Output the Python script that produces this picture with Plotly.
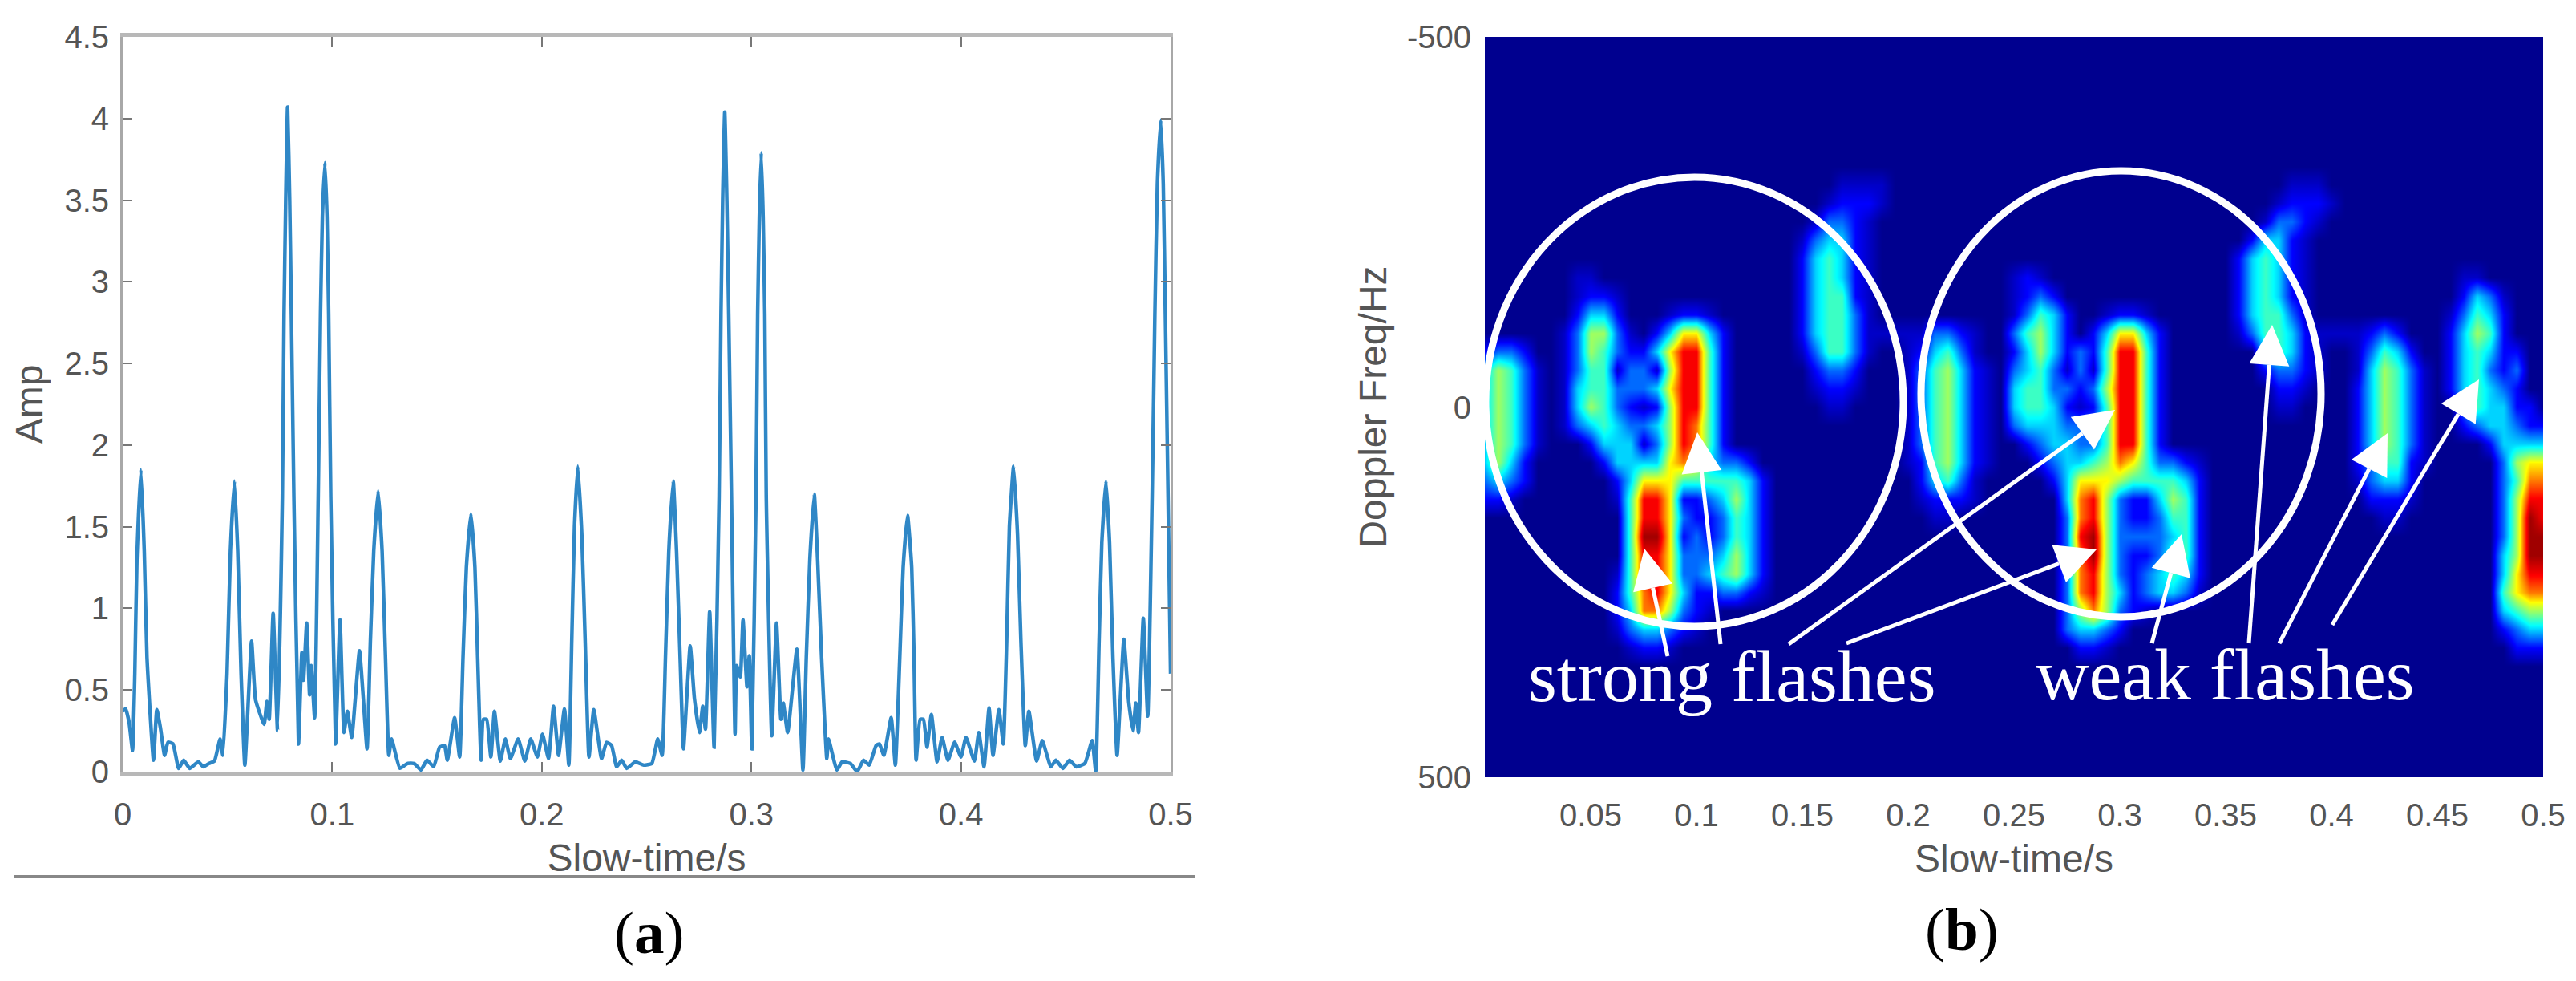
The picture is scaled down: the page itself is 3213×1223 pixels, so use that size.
import plotly.graph_objects as go

W, H = 3213, 1223

# (a) amplitude trace
slow_time = [
    0, .0014, .0031, .0047, .0058, .0068, .0087, .0103, .0116, .0147,
    .0163, .0180, .0200, .0216, .0240, .0267, .0291, .0320, .0361, .0385,
    .0412, .0438, .0465, .0478, .0498, .0514, .0533, .0549, .0565, .0583,
    .0615, .0634, .0675, .0688, .0699, .0718, .0739, .0762, .0770, .0778,
    .0787, .0797, .0805, .0817, .0839, .0855, .0863, .0878, .0892, .0900,
    .0916, .0933, .0944, .0953, .0965, .0975, .0983, .0993, .1016, .1037,
    .1056, .1072, .1093, .1130, .1166, .1182, .1198, .1219, .1238, .1254,
    .1270, .1283, .1323, .1359, .1391, .1423, .1452, .1484, .1512, .1536,
    .1549, .1584, .1608, .1624, .1640, .1662, .1681, .1694, .1710, .1721,
    .1737, .1757, .1774, .1802, .1826, .1850, .1887, .1919, .1947, .1979,
    .2003, .2032, .2056, .2080, .2108, .2129, .2143, .2156, .2172, .2191,
    .2207, .2225, .2248, .2285, .2309, .2333, .2357, .2381, .2405, .2446,
    .2486, .2525, .2553, .2574, .2590, .2606, .2627, .2643, .2660, .2676,
    .2708, .2728, .2752, .2768, .2781, .2801, .2822, .2846, .2855, .2863,
    .2873, .2883, .2892, .2905, .2922, .2930, .2947, .2960, .2979, .2990,
    .3002, .3022, .3030, .3038, .3047, .3056, .3064, .3071, .3097, .3120,
    .3141, .3152, .3173, .3217, .3246, .3262, .3279, .3300, .3316, .3335,
    .3360, .3368, .3408, .3433, .3473, .3505, .3535, .3562, .3595, .3611,
    .3632, .3667, .3687, .3708, .3724, .3745, .3765, .3776, .3786, .3805,
    .3821, .3838, .3859, .3886, .3910, .3938, .3970, .4000, .4024, .4064,
    .4085, .4110, .4134, .4153, .4181, .4202, .4218, .4231, .4251, .4270,
    .4286, .4307, .4324, .4361, .4388, .4429, .4453, .4486, .4518, .4550,
    .4591, .4626, .4643, .4659, .4672, .4692, .4709, .4725, .4745, .4777,
    .4801, .4821, .4834, .4847, .4870, .4891, .4912, .4925, .4937, .4953,
    .4965, .4975, .4988, .5000,
]
amp = [
    .37, .385, .30, .13, .60, 1.30, 1.85, 1.35, .70, .07,
    .38, .27, .10, .18, .17, .02, .07, .02, .06, .03,
    .05, .065, .20, .10, .60, 1.35, 1.78, 1.35, .60, .04,
    .80, .44, .29, .43, .32, .97, .25, 1.68, 2.80, 3.50,
    4.07, 3.50, 2.80, 1.68, .17, .73, .56, .91, .47, .65,
    .33, 1.68, 2.80, 3.40, 3.73, 3.40, 2.80, 1.68, .17, .93,
    .24, .37, .21, .74, .14, .80, 1.35, 1.72, 1.35, .70,
    .10, .20, .02, .05, .05, .01, .07, .03, .15, .16,
    .07, .33, .09, .70, 1.25, 1.58, 1.25, .70, .07, .32,
    .32, .09, .37, .065, .20, .08, .20, .065, .20, .09,
    .23, .08, .40, .10, .385, .04, .80, 1.50, 1.87, 1.45,
    .80, .09, .38, .08, .18, .16, .03, .07, .02, .06,
    .04, .05, .20, .10, .70, 1.35, 1.78, 1.35, .70, .14,
    .77, .45, .24, .40, .26, .98, .15, 1.68, 2.80, 3.50,
    4.04, 3.50, 2.80, 1.68, .23, .65, .58, .93, .52, .71,
    .14, 1.68, 2.80, 3.40, 3.79, 3.40, 2.80, 1.68, .22, .91,
    .32, .42, .24, .75, .01, .70, 1.30, 1.70, 1.30, .70,
    .08, .20, .01, .06, .05, 0, .07, .04, .16, .17,
    .10, .33, .04, .70, 1.25, 1.57, 1.25, .70, .07, .32,
    .32, .15, .35, .06, .21, .07, .18, .09, .21, .065,
    .24, .03, .39, .10, .38, .17, .80, 1.50, 1.87, 1.45,
    .80, .16, .37, .065, .19, .03, .07, .02, .07, .03,
    .05, .19, 0, .80, 1.40, 1.78, 1.40, .70, .10, .81,
    .42, .25, .42, .24, .94, .34, 1.68, 2.80, 3.60, 3.99,
    3.60, 2.80, 1.68, .60,
]
amp_ticks = [0, 0.5, 1, 1.5, 2, 2.5, 3, 3.5, 4, 4.5]
amp_labels = ["0", "0.5", "1", "1.5", "2", "2.5", "3", "3.5", "4", "4.5"]
time_ticks_a = [0, 0.1, 0.2, 0.3, 0.4, 0.5]
time_labels_a = ["0", "0.1", "0.2", "0.3", "0.4", "0.5"]

# (b) spectrogram levels 0-9 (a = half a step), one row per 25 Hz, one char per 6.25 ms
EMPTY = "0" * 81
spec_rows = [EMPTY] * 8 + [
    "0000000000 0000000000 0000000aaa a000000000 0000000000 0000000000 0aaa000000 0000000000 0",  # -300 Hz
    "0000000000 0000000000 000000a111 a000000000 0000000000 0000000000 a111a00000 0000000000 0",
    "0000000000 0000000000 00000a221a 0000000000 0000000000 000000000a 221a000000 0000000000 0",
    "0000000000 0000000000 0000a2331a 0000000000 0000000000 0000000013 31a0000000 0000000000 0",
    "0000000000 0000000000 000013431a 0000000000 0000000000 0000000134 31a0000000 0000000000 0",
    "0000000aa0 0000000000 000013431a 0000000000 a1a0000000 0000000134 31a0000000 0000aa0000 0",
    "0000000a11 a000000000 000013441a 0000000000 a121000000 0000000134 31a0000000 0000132a00 0",
    "0000000133 1000a11a00 000013442a 0000000000 a243100a11 a000000134 42a0000000 000a243100 0",
    "000000a255 2a01366310 000013442a aaaa221a00 2453101366 3100000a24 431aaaa121 0001354100 0",
    "122100a254 2113688410 0000a2442a 00a1342a00 1353121488 4100000003 431a00a243 1001343110 0",
    "3542a0a244 a22a588410 0000012210 00a24531a0 2342a2a488 4100000001 221a00a354 2a01342120 0",
    "3542a0a344 2223688410 00000a11a0 00a24531a0 3442212588 4100000000 11a0001354 2a01343210 0",
    "3542a0a354 21a1588410 000000aa00 00a24531a0 34431a1488 4100000000 aa00001354 2a00243311 0",
    "3542a0a234 3223587410 0000000000 00a24531a0 2333222488 4100000000 0000001354 2a00123321 1",
    "3542a00013 33a2587410 0000000000 00a24531a0 0123322488 4100000000 0000001354 2a00001333 3",
    "3531000001 3333676322 1000000000 00a14531a0 0012334576 4221a00000 0000001244 1a00000256 6",
    "2321000000 1366644444 3100000000 0001342a00 0001366654 4443100000 000000a233 1000000247 7",
    "11a0000000 a488611235 3100000000 000a111a00 0000378521 1354100000 0000000111 a000000258 8",
    "0000000000 0488621124 3100000000 0000aa0000 0000278521 1244100000 00000000aa 0000000259 8",
    "0000000000 0499612124 3100000000 0000000000 0000289522 2234100000 0000000000 0000000259 9",
    "0000000000 0488622235 3100000000 0000000000 0000279521 1244100000 0000000000 0000000359 9",
    "0000000000 a488622345 3100000000 0000000000 0000278521 2343100000 0000000000 0000000368 8",
    "0000000000 1478631122 1a00000000 0000000000 0000278531 2332a00000 0000000000 0000000467 7",
    "0000000000 1377521a00 0000000000 0000000000 0000257521 a000000000 0000000000 0000000345 5",
    "0000000000 a23321a000 0000000000 0000000000 0000233210 0000000000 0000000000 0000000123 3",
    "0000000000 0a11a00000 0000000000 0000000000 0000011a00 0000000000 0000000000 0000000011 1",
] + [EMPTY] * 7
freq_ticks = [-500, 0, 500]
freq_labels = ["-500", "0", "500"]
time_ticks_b = [0.05, 0.1, 0.15, 0.2, 0.25, 0.3, 0.35, 0.4, 0.45, 0.5]
time_labels_b = ["0.05", "0.1", "0.15", "0.2", "0.25", "0.3", "0.35", "0.4", "0.45", "0.5"]

jet = [
    [0, "#00008f"], [0.11, "#0000ff"], [0.38, "#00ffff"],
    [0.66, "#ffff00"], [0.88, "#ff0000"], [1, "#a00000"],
]


def parse_row(row):
    return [0.5 if c == "a" else int(c) for c in row.replace(" ", "")]


def px(x):
    return x / W


def py(y):
    return 1 - y / H


def arrow_shapes(x0, y0, x1, y1, size=50):
    # white shaft plus a filled triangular head, tail -> tip in page pixels
    d = ((x1 - x0) ** 2 + (y1 - y0) ** 2) ** 0.5
    ux, uy = (x1 - x0) / d, (y1 - y0) / d
    bx, by = x1 - ux * size, y1 - uy * size
    half = size / 2
    pts = [(x1, y1), (bx - uy * half, by + ux * half), (bx + uy * half, by - ux * half)]
    path = "M " + " L ".join(f"{px(a):.5f},{py(b):.5f}" for a, b in pts) + " Z"
    return [
        dict(type="line", xref="paper", yref="paper", x0=px(x0), y0=py(y0), x1=px(bx), y1=py(by),
             line=dict(color="white", width=5)),
        dict(type="path", xref="paper", yref="paper", path=path, fillcolor="white",
             line=dict(color="white", width=0)),
    ]


def circle_shape(x0, y0, x1, y1):
    return dict(type="circle", xref="paper", yref="paper", x0=px(x0), y0=py(y0), x1=px(x1), y1=py(y1),
                line=dict(color="white", width=9))


fig = go.Figure()
fig.add_trace(go.Scatter(
    x=slow_time, y=amp, mode="lines", xaxis="x", yaxis="y",
    line=dict(color="#2f87c6", width=4.5, shape="spline", smoothing=0.4),
    showlegend=False,
))
fig.add_trace(go.Heatmap(
    z=[parse_row(r) for r in spec_rows], x0=0, dx=0.00625, y0=-500, dy=25,
    xaxis="x2", yaxis="y2", colorscale=jet, zmin=0, zmax=9, zsmooth="best", showscale=False,
))

tick_font = dict(family="Liberation Sans", size=40, color="#555555")
title_font = dict(family="Liberation Sans", size=48, color="#555555")

shapes = [
    dict(type="line", xref="paper", yref="paper", x0=px(18), x1=px(1490), y0=py(1093), y1=py(1093),
         line=dict(color="#888888", width=4)),
    circle_shape(1853, 221, 2374, 781),
    circle_shape(2396, 213, 2895, 769),
]
arrows = [
    (2080, 818, 2051, 684), (2146, 803, 2117, 539), (2231, 803, 2638, 511), (2303, 802, 2615, 685),
    (2684, 802, 2721, 666), (2805, 802, 2834, 405), (2843, 802, 2978, 540), (2909, 779, 3092, 473),
]
for a in arrows:
    shapes += arrow_shapes(*a)

serif = "Liberation Serif"
annotations = [
    dict(text="strong flashes", x=px(2160), y=py(843), font=dict(family=serif, size=92, color="white")),
    dict(text="weak flashes", x=px(2775), y=py(841), font=dict(family=serif, size=92, color="white")),
    dict(text="(<b>a</b>)", x=px(809), y=py(1162), font=dict(family=serif, size=75, color="black")),
    dict(text="(<b>b</b>)", x=px(2447), y=py(1158), font=dict(family=serif, size=75, color="black")),
]
for a in annotations:
    a.update(xref="paper", yref="paper", showarrow=False, xanchor="center", yanchor="middle")

fig.update_layout(
    width=W, height=H, margin=dict(l=0, r=0, t=0, b=0, autoexpand=False),
    paper_bgcolor="white", plot_bgcolor="white", autosize=False,
    shapes=shapes, annotations=annotations,
    xaxis=dict(
        domain=[px(153), px(1460)], range=[0, 0.5], anchor="y",
        tickvals=time_ticks_a, ticktext=time_labels_a, tickfont=tick_font, ticks="inside", ticklen=12,
        tickcolor="#777777", tickwidth=2, showline=True, mirror="ticks", linecolor="#b8b8b8", linewidth=5,
        showgrid=False, zeroline=False, ticklabelstandoff=14,
        title=dict(text="Slow-time/s", font=title_font, standoff=18),
    ),
    yaxis=dict(
        domain=[py(962), py(46)], range=[0, 4.5], anchor="x",
        tickvals=amp_ticks, ticktext=amp_labels, tickfont=tick_font, ticks="inside", ticklen=12,
        tickcolor="#777777", tickwidth=2, showline=True, mirror="ticks", linecolor="#a8a8a8", linewidth=3,
        showgrid=False, zeroline=False, ticklabelstandoff=6,
        title=dict(text="Amp", font=title_font, standoff=12),
    ),
    xaxis2=dict(
        domain=[px(1852), px(3172)], range=[0, 0.5], anchor="y2",
        tickvals=time_ticks_b, ticktext=time_labels_b, tickfont=tick_font, ticks="",
        showline=False, showgrid=False, zeroline=False, ticklabelstandoff=20,
        title=dict(text="Slow-time/s", font=title_font, standoff=16),
    ),
    yaxis2=dict(
        domain=[py(969), py(46)], range=[500, -500], anchor="x2",
        tickvals=freq_ticks, ticktext=freq_labels, tickfont=tick_font, ticks="",
        showline=False, showgrid=False, zeroline=False, ticklabelstandoff=16,
        title=dict(text="Doppler Freq/Hz", font=title_font, standoff=10),
    ),
)

fig.write_html("out.html", post_script="document.body.style.margin='0';", config=dict(displayModeBar=False))
